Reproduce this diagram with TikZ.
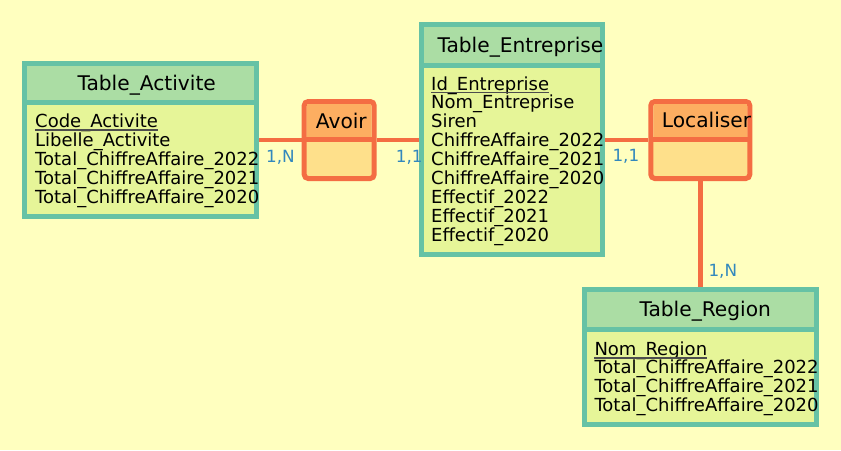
\documentclass[tikz,border=0pt]{standalone}
\usepackage{fontspec}
\setmainfont{DejaVu Sans}
\definecolor{bgyellow}{HTML}{FFFFBF}
\definecolor{enthead}{HTML}{ABDDA4}
\definecolor{entbody}{HTML}{E6F598}
\definecolor{entborder}{HTML}{66C2A5}
\definecolor{assohead}{HTML}{FDAE61}
\definecolor{assobody}{HTML}{FEE08B}
\definecolor{assoborder}{HTML}{F46D43}
\definecolor{cardblue}{HTML}{3288BD}
\definecolor{ulinegray}{HTML}{4D4D4D}
\begin{document}
\begin{tikzpicture}[x=1pt,y=-1pt,
  ent/.style={draw=entborder, line width=5pt, fill=entbody, inner sep=0pt},
  asso/.style={draw=assoborder, line width=5pt, fill=assobody, rounded corners=4pt, inner sep=0pt},
  entsep/.style={draw=entborder, line width=5pt},
  assosep/.style={draw=assoborder, line width=5pt},
  link/.style={draw=assoborder, line width=4.5pt},
  title/.style={anchor=base west, inner sep=0pt, font=\fontsize{20.2}{22}\selectfont},
  attr/.style={anchor=base west, inner sep=0pt, font=\fontsize{18}{19}\selectfont},
  card/.style={anchor=base west, inner sep=0pt, text=cardblue, font=\fontsize{16.8}{18}\selectfont},
  uline/.style={draw=ulinegray, line width=1.5pt}]
\fill[bgyellow] (0,0) rectangle (841,450);
\useasboundingbox (0,0) rectangle (841,450);

% boxes
\node[ent, minimum width=232pt, minimum height=153pt] (act) at (140.5,140) {};
\fill[enthead] (27,66) rectangle (254,100);
\draw[entsep] (24.5,102.5) -- (256.5,102.5);

\node[ent, minimum width=181pt, minimum height=229.4pt] (ent) at (512,139.5) {};
\fill[enthead] (424,27.3) rectangle (600,62.7);
\draw[entsep] (421.5,65.2) -- (602.5,65.2);

\node[ent, minimum width=232pt, minimum height=135pt] (reg) at (700.2,356.7) {};
\fill[enthead] (586.7,291.7) rectangle (813.7,326.5);
\draw[entsep] (584.2,329) -- (816.2,329);

\node[asso, minimum width=70pt, minimum height=77pt] (avoir) at (339.2,140) {};
\fill[assohead] (307,104.3) rectangle (371.4,137);
\draw[assosep] (304.2,139.5) -- (374.2,139.5);

\node[asso, minimum width=99pt, minimum height=77pt] (loc) at (700.3,140) {};
\fill[assohead] (653.6,104.3) rectangle (747,137);
\draw[assosep] (650.8,139.5) -- (749.8,139.5);

% connectors
\draw[link] (act.east) -- (avoir.west);
\draw[link] (avoir.east) -- (avoir.east -| ent.west);
\draw[link] (ent.east |- loc.west) -- (loc.west);
\draw[link] (loc.south) -- (loc.south |- reg.north);

% titles
\node[title] (tact) at (77.3,90) {Table\_Activite};
\node[title] (tent) at (437.3,52.3) {Table\_Entreprise};
\node[title] (treg) at (639.3,316) {Table\_Region};
\node[title] (tavoir) at (315.7,128.3) {Avoir};
\node[title] (tloc) at (661.7,127.7) {Localiser};

% Activite attributes
\node[attr] (a1) at (35,127.7) {Code\_Activite};
\node[attr] (a2) at (35,146.7) {Libelle\_Activite};
\node[attr] (a3) at (35,165.7) {Total\_ChiffreAffaire\_2022};
\node[attr] (a4) at (35,184.7) {Total\_ChiffreAffaire\_2021};
\node[attr] (a5) at (35,203.7) {Total\_ChiffreAffaire\_2020};
\draw[uline] ([yshift=-2.5pt]a1.base west) -- ([yshift=-2.5pt]a1.base east);

% Entreprise attributes
\node[attr] (e1) at (431,90) {Id\_Entreprise};
\node[attr] (e2) at (431,108.95) {Nom\_Entreprise};
\node[attr] (e3) at (431,127.9) {Siren};
\node[attr] (e4) at (431,146.85) {ChiffreAffaire\_2022};
\node[attr] (e5) at (431,165.8) {ChiffreAffaire\_2021};
\node[attr] (e6) at (431,184.75) {ChiffreAffaire\_2020};
\node[attr] (e7) at (431,203.7) {Effectif\_2022};
\node[attr] (e8) at (431,222.65) {Effectif\_2021};
\node[attr] (e9) at (431,241.6) {Effectif\_2020};
\draw[uline] ([yshift=-2.5pt]e1.base west) -- ([yshift=-2.5pt]e1.base east);

% Region attributes
\node[attr] (r1) at (594.3,355.3) {Nom\_Region};
\node[attr] (r2) at (594.3,373.9) {Total\_ChiffreAffaire\_2022};
\node[attr] (r3) at (594.3,392.5) {Total\_ChiffreAffaire\_2021};
\node[attr] (r4) at (594.3,411.1) {Total\_ChiffreAffaire\_2020};
\draw[uline] ([yshift=-2.5pt]r1.base west) -- ([yshift=-2.5pt]r1.base east);

% cardinalities
\node[card] (c1) at (266,162.3) {1,N};
\node[card] (c2) at (395.7,162.3) {1,1};
\node[card] (c3) at (612.3,161.7) {1,1};
\node[card] (c4) at (708.3,276.7) {1,N};
\end{tikzpicture}
\end{document}
